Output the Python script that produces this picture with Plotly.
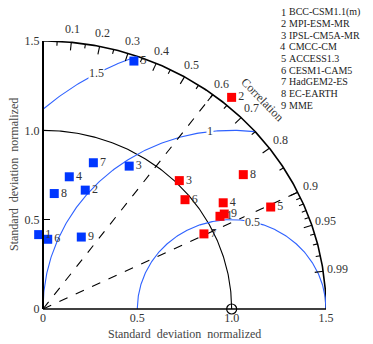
import numpy as np
import plotly.graph_objects as go

# ---------------- data ----------------
model_ids = ["1", "2", "3", "4", "5", "6", "7", "8", "9"]
model_names = ["BCC-CSM1.1(m)", "MPI-ESM-MR", "IPSL-CM5A-MR", "CMCC-CM", "ACCESS1.3",
               "CESM1-CAM5", "HadGEM2-ES", "EC-EARTH", "MME"]

# blue set: normalized std and correlation
blue_std = [0.417, 0.702, 0.921, 0.753, 1.469, 0.391, 0.861, 0.649, 0.451]
blue_corr = [-0.055, 0.319, 0.496, 0.185, 0.328, 0.064, 0.310, 0.092, 0.450]
# red set
red_std = [1.072, 1.550, 1.019, 1.125, 1.335, 0.970, 0.951, 1.301, 1.098]
red_corr = [0.875, 0.645, 0.709, 0.849, 0.904, 0.776, 0.897, 0.816, 0.875]

ref_std = 1.0
max_std = 1.5
std_ticks = [0, 0.5, 1.0, 1.5]
std_ticktext = ["0", "0.5", "1.0", "1.5"]
corr_major = [0.1, 0.2, 0.3, 0.4, 0.5, 0.6, 0.7, 0.8, 0.9, 0.95, 0.99]
corr_major_text = ["0.1", "0.2", "0.3", "0.4", "0.5", "0.6", "0.7", "0.8", "0.9", "0.95", "0.99"]
corr_minor = [0.05, 0.15, 0.25, 0.35, 0.45, 0.55, 0.65, 0.75, 0.85,
              0.91, 0.92, 0.93, 0.94, 0.96, 0.97, 0.98]
corr_dashed = [0.6, 0.9]
rms_levels = [0.5, 1.0, 1.5]
rms_labels = ["0.5", "1", "1.5"]
rms_label_angle_deg = [77, 96.5, 118.5]

BLUE = "#0037ff"
RED = "#ff0000"
CBLUE = "#2f62ff"
FONT = "Liberation Serif"
TXT = "#333333"

# ---------------- layout geometry ----------------
# page body has an 8px margin; figure is sized so the plot lands where the reference's does
FIG_W, FIG_H = 365, 336
M_L, M_R, M_T, M_B = 29, 47, 33, 35
PLOT_W = FIG_W - M_L - M_R
PLOT_H = FIG_H - M_T - M_B
SX = 283 / max_std                      # px per unit in x
XMIN = max_std - PLOT_W / SX            # small negative margin so negative-corr points show
YMIN = 0.0


def pxp(x):
    return (x - XMIN) / (max_std - XMIN)


def pyp(y):
    return (y - YMIN) / (max_std - YMIN)


def to_xy(std, corr):
    s = np.asarray(std, float)
    c = np.asarray(corr, float)
    th = np.arccos(c)
    return s * np.cos(th), s * np.sin(th)


fig = go.Figure()

# outer arc and reference std arc
phi = np.linspace(0, np.pi / 2, 200)
fig.add_trace(go.Scatter(x=max_std * np.cos(phi), y=max_std * np.sin(phi), mode="lines",
                         line=dict(color="black", width=1.6), hoverinfo="skip"))
fig.add_trace(go.Scatter(x=ref_std * np.cos(phi), y=ref_std * np.sin(phi), mode="lines",
                         line=dict(color="black", width=1.1), hoverinfo="skip"))

# RMS contours
for R in rms_levels:
    a = np.linspace(0, np.pi, 400)
    xs = ref_std + R * np.cos(a)
    ys = R * np.sin(a)
    m = (xs >= 0) & (xs ** 2 + ys ** 2 <= max_std ** 2 + 1e-9)
    fig.add_trace(go.Scatter(x=xs[m], y=ys[m], mode="lines",
                             line=dict(color=CBLUE, width=1.1), hoverinfo="skip"))

# dashed correlation lines
for c in corr_dashed:
    th = np.arccos(c)
    fig.add_trace(go.Scatter(x=[0, max_std * np.cos(th)], y=[0, max_std * np.sin(th)],
                             mode="lines", line=dict(color="black", width=1.1, dash="dash"),
                             hoverinfo="skip"))

# correlation ticks
tx, ty = [], []
for cl, ln in [(corr_major, 0.045), (corr_minor, 0.025)]:
    for c in cl:
        th = np.arccos(c)
        tx += [max_std * np.cos(th), (max_std - ln) * np.cos(th), None]
        ty += [max_std * np.sin(th), (max_std - ln) * np.sin(th), None]
fig.add_trace(go.Scatter(x=tx, y=ty, mode="lines", line=dict(color="black", width=1.1),
                         hoverinfo="skip"))

# points
bx, by = to_xy(blue_std, blue_corr)
rx, ry = to_xy(red_std, red_corr)
fig.add_trace(go.Scatter(x=bx, y=by, mode="markers+text", text=model_ids,
                         textposition="middle right",
                         textfont=dict(family=FONT, size=12, color=TXT),
                         marker=dict(symbol="square", size=9, color=BLUE),
                         cliponaxis=False))
fig.add_trace(go.Scatter(x=rx, y=ry, mode="markers+text", text=model_ids,
                         textposition="middle right",
                         textfont=dict(family=FONT, size=12, color=TXT),
                         marker=dict(symbol="square", size=9, color=RED),
                         cliponaxis=False))
# reference point
fig.add_trace(go.Scatter(x=[ref_std], y=[0], mode="markers",
                         marker=dict(symbol="circle-open", size=10, color="black",
                                     line=dict(width=1.2)), cliponaxis=False))

ann = []
# correlation labels (paper coords so labels beyond the axis range stay visible)
for c, t in zip(corr_major, corr_major_text):
    th = np.arccos(c)
    ann.append(dict(xref="paper", yref="paper",
                    x=pxp(1.575 * np.cos(th)), y=pyp(1.575 * np.sin(th)),
                    text=t, showarrow=False, xanchor="center", yanchor="middle",
                    font=dict(family=FONT, size=12, color=TXT)))
ann.append(dict(xref="paper", yref="paper", x=pxp(1.165), y=pyp(1.17),
                xanchor="center", yanchor="middle",
                text="Correlation", textangle=46, showarrow=False,
                font=dict(family=FONT, size=12, color=TXT)))
# RMS labels
for R, t, a in zip(rms_levels, rms_labels, rms_label_angle_deg):
    ar = np.radians(a)
    ann.append(dict(x=ref_std + R * np.cos(ar), y=R * np.sin(ar), text=t, showarrow=False,
                    bgcolor="white", borderpad=0,
                    font=dict(family=FONT, size=12, color=TXT)))
# titles
ann.append(dict(xref="paper", yref="paper", x=pxp(0.75), y=-25 / PLOT_H,
                text="Standard  deviation  normalized",
                showarrow=False, xanchor="center", yanchor="middle",
                font=dict(family=FONT, size=12, color="#444")))
ann.append(dict(xref="paper", yref="paper", x=pxp(0) - 29 / PLOT_W, y=0.5,
                text="Standard  deviation  normalized",
                showarrow=False, textangle=-90, xanchor="center", yanchor="middle",
                font=dict(family=FONT, size=12, color="#444")))
# legend list (number + name)
for i, (mid, nm) in enumerate(zip(model_ids, model_names)):
    py = 12 + 11.65 * i
    yy = (309 - py) / PLOT_H
    ann.append(dict(xref="paper", yref="paper", x=pxp(0) + (283 - 43) / PLOT_W, y=yy,
                    text=mid, showarrow=False, xanchor="center", yanchor="middle",
                    font=dict(family=FONT, size=10.5, color="#222")))
    ann.append(dict(xref="paper", yref="paper", x=pxp(0) + (288 - 43) / PLOT_W, y=yy,
                    text=nm, showarrow=False, xanchor="left", yanchor="middle",
                    borderpad=0, font=dict(family=FONT, size=10, color="#222")))

# bottom axis line from 0 to max (x clipped only)
shapes = [dict(type="line", xref="x", yref="paper", x0=0, x1=max_std, y0=0, y1=0,
               line=dict(color="black", width=1.6), layer="above")]

fig.update_layout(
    width=FIG_W, height=FIG_H, margin=dict(l=M_L, r=M_R, t=M_T, b=M_B),
    paper_bgcolor="white", plot_bgcolor="white", showlegend=False,
    annotations=ann, shapes=shapes,
    xaxis=dict(range=[XMIN, max_std], tickvals=std_ticks, ticktext=std_ticktext,
               showline=False, ticks="",
               showgrid=False, zeroline=False, fixedrange=True,
               tickfont=dict(family=FONT, size=12, color=TXT)),
    yaxis=dict(range=[YMIN, max_std], tickvals=std_ticks, ticktext=std_ticktext,
               anchor="free", position=pxp(0),
               showline=True, linecolor="black", linewidth=2, ticks="inside", ticklen=6,
               tickcolor="black", showgrid=False, zeroline=False, fixedrange=True,
               tickfont=dict(family=FONT, size=12, color=TXT)),
)

fig.write_html("out.html")
